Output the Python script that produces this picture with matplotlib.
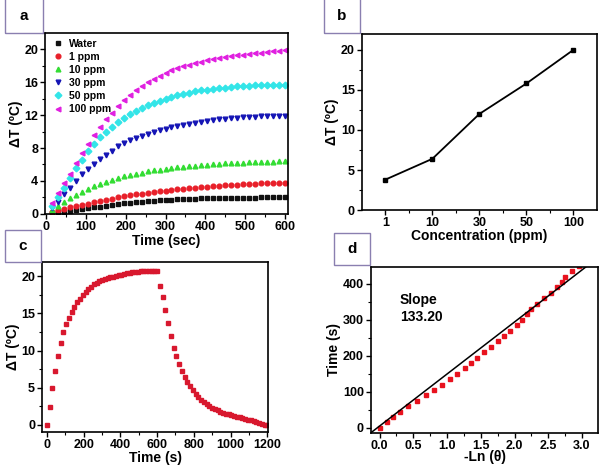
import matplotlib
matplotlib.use("Agg")
import matplotlib.pyplot as plt
from matplotlib.patches import Rectangle
from matplotlib.ticker import MultipleLocator
import numpy as np

plt.rcParams['font.family'] = ['Liberation Sans', 'DejaVu Sans']
plt.rcParams['font.weight'] = 'bold'

# panel a: heating curves, one point every 15 s
t_a = np.arange(15, 601, 15)
water = [0.10, 0.18, 0.28, 0.38, 0.48, 0.58, 0.68, 0.78, 0.88, 0.98,
         1.08, 1.17, 1.26, 1.34, 1.42, 1.49, 1.55, 1.61, 1.66, 1.70,
         1.74, 1.78, 1.81, 1.84, 1.86, 1.88, 1.90, 1.92, 1.93, 1.94,
         1.95, 1.96, 1.97, 1.98, 1.98, 1.99, 1.99, 2.00, 2.00, 2.00]
ppm1 = [0.25, 0.45, 0.62, 0.80, 0.95, 1.10, 1.25, 1.40, 1.55, 1.70,
        1.85, 2.00, 2.12, 2.24, 2.36, 2.47, 2.57, 2.66, 2.75, 2.83,
        2.91, 2.98, 3.05, 3.12, 3.18, 3.24, 3.30, 3.36, 3.41, 3.46,
        3.51, 3.55, 3.59, 3.63, 3.67, 3.70, 3.73, 3.76, 3.78, 3.80]
ppm10 = [0.45, 0.95, 1.45, 1.90, 2.30, 2.70, 3.05, 3.35, 3.62, 3.88,
         4.12, 4.35, 4.55, 4.72, 4.88, 5.02, 5.15, 5.27, 5.38, 5.48,
         5.57, 5.65, 5.73, 5.80, 5.87, 5.93, 5.99, 6.04, 6.09, 6.13,
         6.17, 6.21, 6.24, 6.27, 6.30, 6.32, 6.34, 6.36, 6.38, 6.40]
ppm30 = [0.7, 1.5, 2.4, 3.2, 4.0, 4.8, 5.5, 6.1, 6.7, 7.2,
         7.7, 8.2, 8.6, 8.95, 9.25, 9.5, 9.75, 9.95, 10.15, 10.35,
         10.5, 10.65, 10.8, 10.95, 11.08, 11.2, 11.3, 11.4, 11.5, 11.58,
         11.65, 11.7, 11.75, 11.8, 11.83, 11.86, 11.88, 11.9, 11.9, 11.9]
ppm50 = [1.0, 2.0, 3.2, 4.4, 5.6, 6.6, 7.6, 8.5, 9.3, 10.0,
         10.6, 11.2, 11.7, 12.15, 12.55, 12.9, 13.2, 13.5, 13.75, 14.0,
         14.2, 14.4, 14.58, 14.74, 14.88, 15.0, 15.1, 15.2, 15.28, 15.35,
         15.42, 15.48, 15.53, 15.58, 15.62, 15.65, 15.68, 15.7, 15.7, 15.7]
ppm100 = [1.3, 2.5, 3.7, 4.9, 6.2, 7.4, 8.5, 9.6, 10.6, 11.5,
          12.3, 13.1, 13.8, 14.4, 15.0, 15.5, 16.0, 16.4, 16.8, 17.15,
          17.45, 17.7, 17.95, 18.15, 18.35, 18.5, 18.65, 18.8, 18.92, 19.05,
          19.15, 19.25, 19.35, 19.45, 19.53, 19.6, 19.68, 19.75, 19.82, 19.9]
series_a = [("Water", water, "s", "#111111"),
            ("1 ppm", ppm1, "o", "#e8202a"),
            ("10 ppm", ppm10, "^", "#33dd33"),
            ("30 ppm", ppm30, "v", "#1515b5"),
            ("50 ppm", ppm50, "D", "#33e5e8"),
            ("100 ppm", ppm100, "<", "#e020e0")]

# panel b: final temperature rise vs concentration
conc = ["1", "10", "30", "50", "100"]
dT_final = [3.8, 6.4, 12.0, 15.8, 20.0]

# panel c: heating (laser on) then cooling
t_c = np.arange(0, 1201, 15)
dT_c = [0.0, 2.4, 5.0, 7.2, 9.3, 11.0, 12.5, 13.6, 14.4, 15.2,
        15.9, 16.5, 17.0, 17.5, 17.9, 18.3, 18.6, 18.9, 19.1, 19.3,
        19.45, 19.6, 19.72, 19.85, 19.95, 20.05, 20.15, 20.22, 20.3, 20.38,
        20.45, 20.52, 20.58, 20.63, 20.68, 20.72, 20.75, 20.75, 20.75, 20.75,
        20.75,
        18.7, 17.2, 15.5, 13.7, 11.9, 10.4, 9.3, 8.2, 7.3, 6.5,
        5.8, 5.2, 4.7, 4.2, 3.8, 3.4, 3.05, 2.75, 2.5, 2.3,
        2.1, 1.95, 1.8, 1.65, 1.5, 1.4, 1.3, 1.2, 1.1, 1.0,
        0.9, 0.8, 0.7, 0.6, 0.5, 0.4, 0.25, 0.1, 0.0, -0.05]

# panel d: time vs -ln(theta) during cooling
neg_ln = [0.0, 0.11, 0.2, 0.31, 0.42, 0.56, 0.69, 0.81, 0.93, 1.04,
          1.15, 1.26, 1.35, 1.45, 1.55, 1.65, 1.75, 1.85, 1.93, 2.03,
          2.11, 2.18, 2.24, 2.34, 2.44, 2.54, 2.63, 2.71, 2.75, 2.85, 2.95]
t_d = np.arange(0, 451, 15)
fit_slope = 144.5
fit_intercept = 5.0

fig = plt.figure(figsize=(6.0, 4.69), dpi=100)

tick_fs = 9
lab_fs = 10


def style(ax):
    for s in ax.spines.values():
        s.set_linewidth(1.2)
    ax.tick_params(which="major", direction="out", length=3.5, width=1.0,
                   labelsize=tick_fs, pad=1.5)
    ax.tick_params(which="minor", direction="out", length=2, width=0.8)
    for lab in ax.get_xticklabels() + ax.get_yticklabels():
        lab.set_fontweight("bold")


def box(x0, y0, x1, y1, letter):
    # pixel coords, origin top-left
    fig.patches.append(Rectangle((x0 / 600, 1 - y1 / 469), (x1 - x0) / 600,
                                 (y1 - y0) / 469, transform=fig.transFigure,
                                 fill=False, edgecolor="#8a7fb0", lw=1.0))
    fig.text((x0 + x1) / 1200, 1 - (y0 + y1) / 938, letter, ha="center",
             va="center", fontsize=11, fontweight="bold")


# a
ax = fig.add_axes([0.075, 0.544, 0.405, 0.386])
for name, vals, m, c in series_a:
    ax.plot(t_a, vals, ls="none", marker=m, ms=3.4, mec=c, mfc=c, label=name)
ax.set_xlim(-3, 608)
ax.set_ylim(0, 22)
ax.xaxis.set_major_locator(MultipleLocator(100))
ax.xaxis.set_minor_locator(MultipleLocator(50))
ax.yaxis.set_major_locator(MultipleLocator(4))
ax.yaxis.set_minor_locator(MultipleLocator(2))
ax.set_xlabel("Time (sec)", fontsize=lab_fs, fontweight="bold", labelpad=1)
ax.set_ylabel("ΔT (ºC)", fontsize=lab_fs, fontweight="bold", labelpad=1)
leg = ax.legend(loc="upper left", frameon=False, fontsize=7.5,
                handletextpad=0.5, labelspacing=0.3, borderaxespad=0.15,
                handlelength=1.3, markerscale=1.0)
for tx in leg.get_texts():
    tx.set_fontweight("bold")
style(ax)
box(5, -2, 43, 33, "a")

# b
ax = fig.add_axes([0.603, 0.552, 0.392, 0.376])
xpos = np.arange(len(conc))
ax.plot(xpos, dT_final, color="black", lw=1.3, marker="s", ms=2.5)
ax.set_xlim(-0.5, 4.5)
ax.set_ylim(0, 22)
ax.set_xticks(xpos)
ax.set_xticklabels(conc)
ax.set_xticks(xpos[:-1] + 0.5, minor=True)
ax.yaxis.set_major_locator(MultipleLocator(5))
ax.yaxis.set_minor_locator(MultipleLocator(2.5))
ax.set_xlabel("Concentration (ppm)", fontsize=lab_fs, fontweight="bold",
              labelpad=0)
ax.set_ylabel("ΔT (ºC)", fontsize=lab_fs, fontweight="bold", labelpad=1)
style(ax)
box(324, -2, 360, 33, "b")

# c
ax = fig.add_axes([0.07, 0.079, 0.377, 0.362])
ax.plot(t_c, dT_c, ls="none", marker="s", ms=2.8, mec="#d8182e",
        mfc="#d8182e")
ax.set_xlim(-27, 1205)
ax.set_ylim(-0.95, 21.9)
ax.xaxis.set_major_locator(MultipleLocator(200))
ax.xaxis.set_minor_locator(MultipleLocator(100))
ax.yaxis.set_major_locator(MultipleLocator(5))
ax.yaxis.set_minor_locator(MultipleLocator(2.5))
ax.set_xlabel("Time (s)", fontsize=lab_fs, fontweight="bold", labelpad=0)
ax.set_ylabel("ΔT (ºC)", fontsize=lab_fs, fontweight="bold", labelpad=1)
style(ax)
box(5, 230, 41, 262, "c")

# d
ax = fig.add_axes([0.618, 0.077, 0.379, 0.354])
ax.plot(neg_ln, t_d, ls="none", marker="s", ms=3.3, mec="#e8121e",
        mfc="#e8121e")
xl = np.array([-0.13, 3.24])
ax.plot(xl, fit_slope * xl + fit_intercept, color="black", lw=1.1)
ax.set_xlim(-0.13, 3.24)
ax.set_ylim(-14, 447)
ax.xaxis.set_major_locator(MultipleLocator(0.5))
ax.xaxis.set_minor_locator(MultipleLocator(0.25))
ax.yaxis.set_major_locator(MultipleLocator(100))
ax.yaxis.set_minor_locator(MultipleLocator(50))
ax.set_xlabel("-Ln (θ)", fontsize=lab_fs, fontweight="bold", labelpad=-1)
ax.set_ylabel("Time (s)", fontsize=lab_fs, fontweight="bold", labelpad=1)
ax.text(0.3, 375, "Slope\n133.20", fontsize=10, fontweight="bold",
        va="top", ha="left", linespacing=1.3)
style(ax)
box(334, 233, 370, 265, "d")

fig.savefig("out.png", dpi=100)
